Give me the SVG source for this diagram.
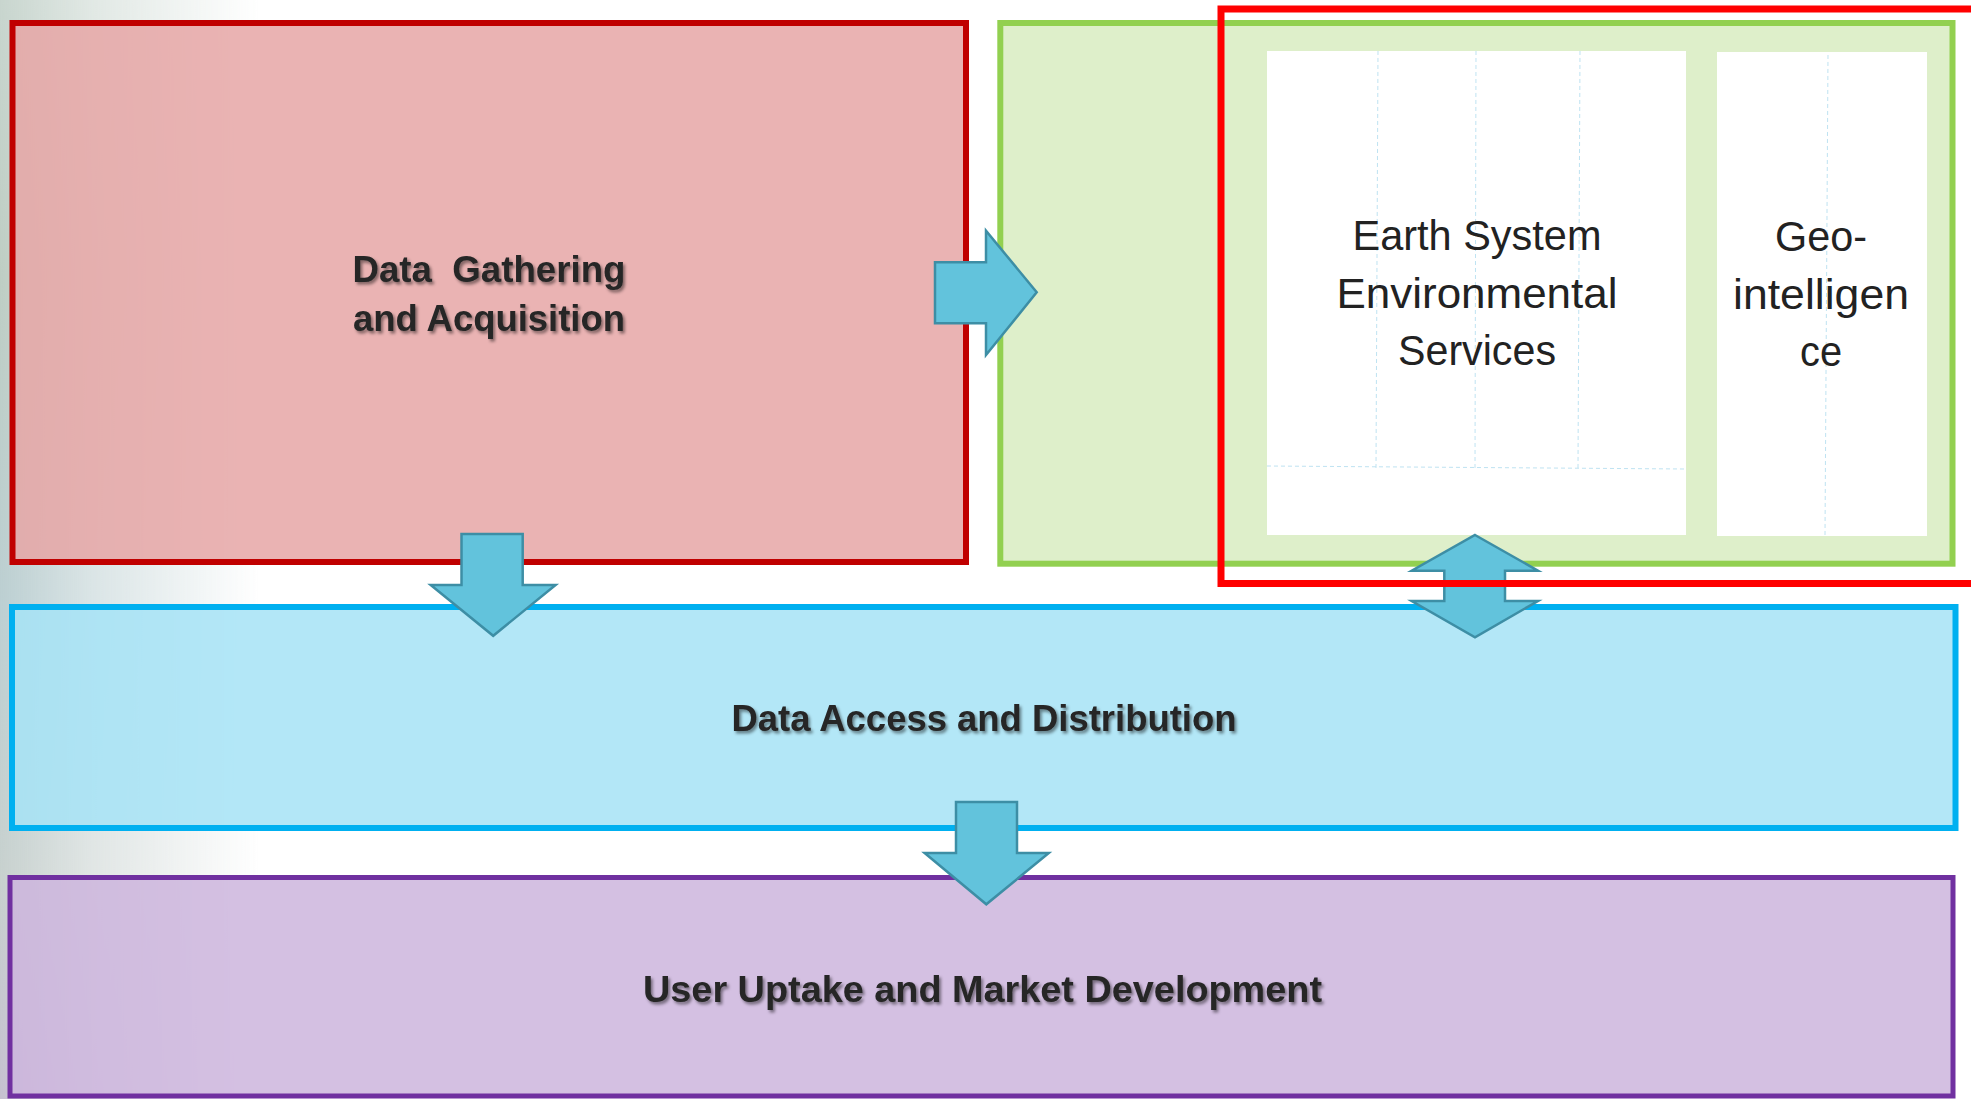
<svg xmlns="http://www.w3.org/2000/svg" width="1971" height="1099" viewBox="0 0 1971 1099">
  <defs>
    <style>
      .box { stroke-width: 6; }
      .red { fill: #E6A6A6; fill-opacity: 0.85; stroke: #C00000; }
      .green { fill: #DEEFCA; stroke: #92D050; }
      .blue { fill: #A6E3F6; fill-opacity: 0.85; stroke: #00B0F0; }
      .purple { fill: #CCB5DD; fill-opacity: 0.85; stroke: #7030A0; stroke-width: 5; }
      .panel { fill: #FFFFFF; }
      .grid { stroke: #BFE3F2; stroke-width: 1; stroke-dasharray: 4 3; fill: none; }
      .arrow { fill: #62C3DC; stroke: #3D8EA5; stroke-width: 2.5; stroke-linejoin: miter; }
      .title { font-family: "Liberation Sans", Arial, sans-serif; font-weight: bold; font-size: 36px; fill: #262626; text-anchor: middle; filter: url(#shadow); }
      .label { font-family: "Liberation Sans", Arial, sans-serif; font-size: 43px; fill: #222222; text-anchor: middle; }
    </style>
    <filter id="shadow" x="-5%" y="-20%" width="110%" height="150%">
      <feDropShadow dx="2" dy="2.5" stdDeviation="1.4" flood-color="#000000" flood-opacity="0.45"/>
    </filter>
    <linearGradient id="fade" x1="0" y1="0" x2="1" y2="0">
      <stop offset="0" stop-color="#FFFFFF" stop-opacity="1"/>
      <stop offset="0.35" stop-color="#FFFFFF" stop-opacity="0.55"/>
      <stop offset="1" stop-color="#FFFFFF" stop-opacity="0"/>
    </linearGradient>
    <mask id="fadeMask" maskUnits="userSpaceOnUse" x="0" y="0" width="260" height="1099">
      <rect x="0" y="0" width="260" height="1099" fill="url(#fade)"/>
    </mask>
    <linearGradient id="tint" x1="0" y1="0" x2="0" y2="1">
      <stop offset="0" stop-color="#A4BAAE"/>
      <stop offset="0.25" stop-color="#93AC9C"/>
      <stop offset="0.55" stop-color="#8FAFB4"/>
      <stop offset="0.8" stop-color="#A3B2AE"/>
      <stop offset="1" stop-color="#9E97B0"/>
    </linearGradient>
  </defs>

  <rect x="0" y="0" width="1971" height="1099" fill="#FFFFFF"/>
  <!-- faded photographic backdrop along the left edge -->
  <rect x="0" y="0" width="260" height="1099" fill="url(#tint)" mask="url(#fadeMask)" opacity="0.6"/>

  <g id="data-gathering">
    <rect class="box red" x="12.5" y="23" width="953.5" height="539"/>
    <text class="title" x="489" y="281.5" xml:space="preserve" textLength="273" lengthAdjust="spacingAndGlyphs">Data  Gathering</text>
    <text class="title" x="489" y="330.5" textLength="272" lengthAdjust="spacingAndGlyphs">and Acquisition</text>
  </g>

  <g id="services">
    <rect class="box green" x="1000.3" y="23" width="952.2" height="540.7"/>
    <g id="earth-system">
      <rect class="panel" x="1267" y="51" width="419" height="484"/>
      <path class="grid" d="M1378 51 L1376 468 M1476 51 L1475 468 M1580 51 L1578 468 M1267 466 L1686 469"/>
      <text class="label" x="1477" y="250" textLength="249" lengthAdjust="spacingAndGlyphs">Earth System</text>
      <text class="label" x="1477" y="308" textLength="281" lengthAdjust="spacingAndGlyphs">Environmental</text>
      <text class="label" x="1477" y="365" textLength="158" lengthAdjust="spacingAndGlyphs">Services</text>
    </g>
    <g id="geo-intelligence">
      <rect class="panel" x="1717" y="52" width="210" height="484"/>
      <path class="grid" d="M1828 55 L1825 536"/>
      <text class="label" x="1821" y="251" textLength="92" lengthAdjust="spacingAndGlyphs">Geo-</text>
      <text class="label" x="1821" y="309" textLength="176" lengthAdjust="spacingAndGlyphs">intelligen</text>
      <text class="label" x="1821" y="366" textLength="42" lengthAdjust="spacingAndGlyphs">ce</text>
    </g>
  </g>

  <g id="data-access">
    <rect class="box blue" x="12" y="607" width="1943.5" height="221"/>
    <text class="title" x="984" y="731" textLength="505" lengthAdjust="spacingAndGlyphs">Data Access and Distribution</text>
  </g>

  <g id="user-uptake">
    <rect class="box purple" x="10" y="877.5" width="1943" height="218.5"/>
    <text class="title" x="982.5" y="1002" textLength="679" lengthAdjust="spacingAndGlyphs">User Uptake and Market Development</text>
  </g>

  <g id="connectors">
    <!-- gathering to services -->
    <path class="arrow" d="M935 262.3 L986 262.3 L986 230.7 L1036.7 292.3 L986 355 L986 323.3 L935 323.3 Z"/>
    <!-- gathering to access -->
    <path class="arrow" d="M461.5 534 L522.7 534 L522.7 585 L555.6 585 L493.2 635.8 L430.7 585 L461.5 585 Z"/>
    <!-- access to uptake -->
    <path class="arrow" d="M956 802 L1017 802 L1017 853 L1048.8 853 L986.3 904.3 L924.6 853 L956 853 Z"/>
    <!-- services and access, both ways -->
    <path class="arrow" d="M1475 535 L1538 570.7 L1505 570.7 L1505 601 L1538 601 L1475 637.3 L1411.7 601 L1444.3 601 L1444.3 570.7 L1411.7 570.7 Z"/>
  </g>

  <!-- highlight frame around the service panels -->
  <rect id="highlight" x="1221" y="9" width="800" height="574.5" fill="none" stroke="#FF0000" stroke-width="7"/>
</svg>
